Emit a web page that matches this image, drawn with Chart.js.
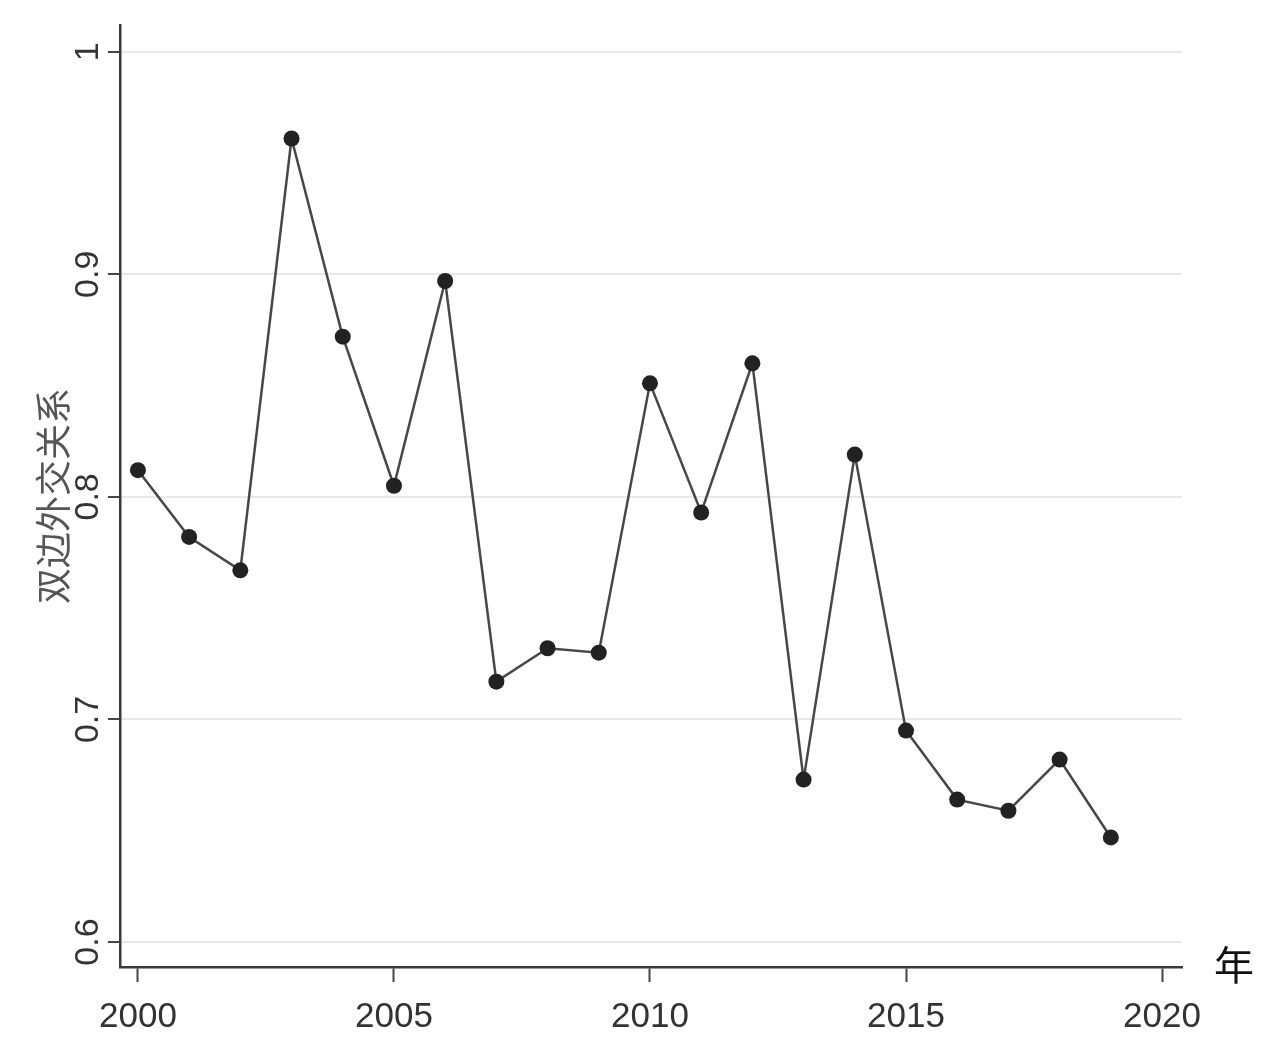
<!DOCTYPE html>
<html>
<head>
<meta charset="utf-8">
<script src="https://cdn.jsdelivr.net/npm/chart.js@4"></script>
<style>
  body { margin: 0; background: #fff; }
  #chart { display: block; }
</style>
</head>
<body>
<canvas id="chart" width="1274" height="1048"></canvas>
<script>
// data
var years = [2000, 2001, 2002, 2003, 2004, 2005, 2006, 2007, 2008, 2009,
             2010, 2011, 2012, 2013, 2014, 2015, 2016, 2017, 2018, 2019];
var relation = [0.812, 0.782, 0.767, 0.961, 0.872, 0.805, 0.897, 0.717, 0.732, 0.730,
                0.851, 0.793, 0.860, 0.673, 0.819, 0.695, 0.664, 0.659, 0.682, 0.647];
var xTicks = [2000, 2005, 2010, 2015, 2020];
var yTicks = [0.6, 0.7, 0.8, 0.9, 1];
var yTitle = "双边外交关系";
var xTitle = "年";

// "年" sits to the right of the x axis
var yearLabel = {
    id: "yearLabel",
    afterDraw: function (chart) {
        var ctx = chart.ctx;
        var area = chart.chartArea;
        ctx.save();
        ctx.font = "40px 'Noto Sans CJK SC'";
        ctx.fillStyle = "#111";
        ctx.textAlign = "left";
        ctx.textBaseline = "middle";
        ctx.fillText(xTitle, area.right + 32, area.bottom - 2);
        ctx.restore();
    }
};

var points = years.map(function (y, i) { return { x: y, y: relation[i] }; });

var canvasElement = document.getElementById("chart");
var config = {
    type: "line",
    data: {
        datasets: [{
            data: points,
            borderColor: "#474747",
            borderWidth: 2.5,
            pointRadius: 8,
            pointBackgroundColor: "#222",
            pointBorderColor: "#222",
            pointBorderWidth: 0,
            tension: 0
        }]
    },
    options: {
        responsive: false,
        animation: false,
        layout: {
            padding: { left: 32, right: 92, top: 25, bottom: -4 }
        },
        plugins: {
            legend: { display: false },
            tooltip: { enabled: false }
        },
        scales: {
            x: {
                type: "linear",
                min: 1999.65,
                max: 2020.39,
                afterBuildTicks: function (scale) {
                    scale.ticks = xTicks.map(function (v) { return { value: v }; });
                },
                grid: {
                    drawOnChartArea: false,
                    tickLength: 15,
                    tickColor: "#444",
                    tickWidth: 2
                },
                border: { color: "#3a3a3a", width: 2.5 },
                ticks: {
                    color: "#333",
                    padding: 14,
                    maxRotation: 0,
                    font: { family: "'Liberation Sans', Arial, sans-serif", size: 35 },
                    callback: function (v) { return String(v); }
                }
            },
            y: {
                min: 0.5888,
                max: 1.012,
                afterBuildTicks: function (scale) {
                    scale.ticks = yTicks.map(function (v) { return { value: v }; });
                },
                grid: {
                    color: "#e8e8e8",
                    lineWidth: 2,
                    tickLength: 12,
                    tickColor: "#444",
                    tickWidth: 2
                },
                border: { color: "#3a3a3a", width: 2.5 },
                title: {
                    display: true,
                    text: yTitle,
                    color: "#555",
                    padding: { top: 0, bottom: 0 },
                    font: { family: "'Noto Sans CJK SC', sans-serif", size: 36 }
                },
                ticks: {
                    color: "#333",
                    padding: -4,
                    minRotation: 90,
                    maxRotation: 90,
                    crossAlign: "center",
                    font: { family: "'Liberation Sans', Arial, sans-serif", size: 34 },
                    callback: function (v) { return String(v); }
                }
            }
        }
    },
    plugins: [yearLabel]
};
var chart = new Chart(canvasElement, config);
</script>
</body>
</html>
